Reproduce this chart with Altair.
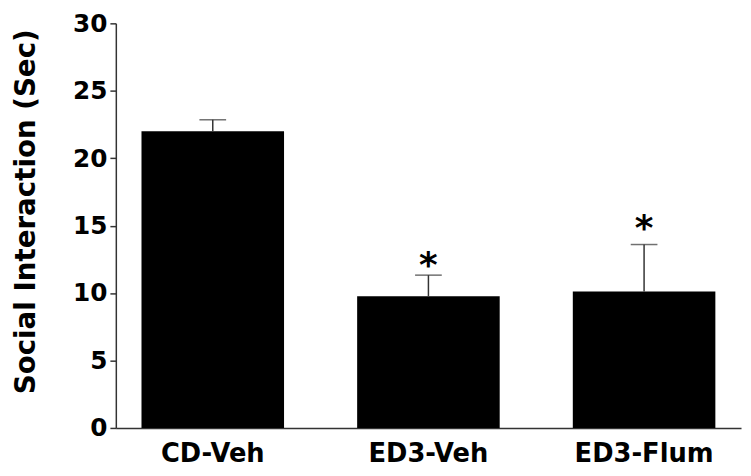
import altair as alt
import pandas as pd

groups = ["CD-Veh", "ED3-Veh", "ED3-Flum"]
means = [22.0, 9.76, 10.12]
upper = [22.85, 11.33, 13.6]
star_groups = ["ED3-Veh", "ED3-Flum"]
star_y = [12.65, 15.4]

df = pd.DataFrame({"group": groups, "mean": means, "upper": upper})
sdf = pd.DataFrame({"group": star_groups, "y": star_y, "t": ["*", "*"]})

FONT = "DejaVu Sans"

x = alt.X("group:N", sort=groups,
          scale=alt.Scale(paddingInner=0.339, paddingOuter=0.119),
          axis=alt.Axis(title=None, labelAngle=0, ticks=False, labelFont=FONT,
                        labelFontWeight="bold", labelFontSize=26, labelColor="black",
                        labelPadding=13, domainColor="#333", domainWidth=1.5))
y = alt.Y("mean:Q", scale=alt.Scale(domain=[0, 30], nice=False),
          axis=alt.Axis(title="Social Interaction (Sec)", values=[0, 5, 10, 15, 20, 25, 30],
                        grid=False, tickSize=6, tickColor="#333", domainColor="#333",
                        domainWidth=1.5, tickWidth=1.5,
                        labelFont=FONT, labelFontWeight="bold", labelFontSize=25,
                        labelColor="black", labelPadding=3,
                        titleFont=FONT, titleFontWeight="bold", titleFontSize=28,
                        titleColor="black", titleX=-76, titleY=190, titleBaseline="bottom"))

bars = alt.Chart(df).mark_bar(color="black").encode(x=x, y=y)

err = alt.Chart(df).mark_rule(color="#333", strokeWidth=1.5).encode(
    x=alt.X("group:N", sort=groups), y="mean:Q", y2="upper:Q")

cap = alt.Chart(df).mark_tick(color="#333", thickness=1.5, size=27, orient="horizontal").encode(
    x=alt.X("group:N", sort=groups), y="upper:Q")

stars = alt.Chart(sdf).mark_text(font=FONT, fontWeight="bold", fontSize=36, color="black",
                                 baseline="middle", dy=9).encode(
    x=alt.X("group:N", sort=groups), y="y:Q", text="t:N")

chart = alt.layer(bars, err, cap, stars).properties(
    width=632, height=409,
    padding={"left": 109, "top": 13, "right": 2, "bottom": 40},
    autosize=alt.AutoSizeParams(type="none"),
).configure_view(stroke=None)

chart.save("out.html", embed_options={"renderer": "svg", "actions": False})
